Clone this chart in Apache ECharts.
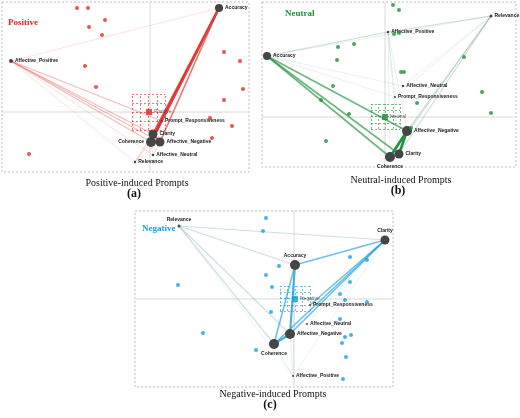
<!DOCTYPE html>
<html>
<head>
<meta charset="utf-8">
<script src="https://cdn.jsdelivr.net/npm/echarts@6/dist/echarts.min.js"></script>
<style>
  html, body { margin: 0; padding: 0; background: #fff; }
  #main { width: 520px; height: 418px; }
</style>
</head>
<body>
<div id="main"></div>
<script>
// node names shared by the three panels
var nodeNames = ['Accuracy', 'Affective_Positive', 'Clarity', 'Coherence',
    'Affective_Negative', 'Affective_Neutral', 'Relevance', 'Prompt_Responsiveness'];

// (a) positive
var posNodeXY = [[69, 104], [-139, 51], [3, -22], [1, -30], [10, -30], [3, -43], [-15, -50], [12, -9]];
var posDots = [[-73, 104], [-62, 104], [-45, 92], [-61, 85], [-48, 77], [-65, 46], [-54, 25], [-121, -42],
    [74, 60], [90, 51], [93, 23], [74, 12], [60, -6], [82, -14], [62, -26]];
var posCenter = [-1, 0];
var posBoxX = [-18, 15];
var posBoxY = [-18, 18];
var posEdges = [
    ['Affective_Positive', 'Accuracy', 1], ['Affective_Positive', 'Clarity', 2], ['Affective_Positive', 'Coherence', 2],
    ['Affective_Positive', 'Affective_Negative', 2], ['Affective_Positive', 'Prompt_Responsiveness', 2],
    ['Affective_Positive', 'Relevance', 1], ['Affective_Positive', 'Affective_Neutral', 1],
    ['Accuracy', 'Coherence', 5], ['Accuracy', 'Clarity', 4], ['Accuracy', 'Affective_Negative', 3],
    ['Accuracy', 'Prompt_Responsiveness', 2],
    ['Relevance', 'Clarity', 1], ['Relevance', 'Coherence', 1], ['Relevance', 'Affective_Negative', 1],
    ['Relevance', 'Prompt_Responsiveness', 1],
    ['Clarity', 'Coherence', 4], ['Clarity', 'Affective_Negative', 4], ['Coherence', 'Affective_Negative', 4],
    ['Affective_Neutral', 'Coherence', 1], ['Affective_Neutral', 'Affective_Negative', 1]
];

// (b) neutral
var neuNodeXY = [[-118, 61], [3, 85], [14, -37], [5, -40], [22, -14], [18, 31], [106, 101], [10, 20]];
var neuDots = [[8, 112], [14, 107], [14, 84], [9, 83], [-31, 73], [-47, 70], [-48, 57], [16, 45], [19, 45],
    [-52, 31], [-64, 17], [-36, 3], [32, 14], [79, 60], [97, 25], [106, 4], [-59, -24], [26, -11]];
var neuCenter = [0, 0];
var neuBoxX = [-14, 15];
var neuBoxY = [-12, 13];
var neuEdges = [
    ['Accuracy', 'Affective_Positive', 2], ['Accuracy', 'Relevance', 1], ['Accuracy', 'Affective_Negative', 3],
    ['Accuracy', 'Clarity', 3], ['Accuracy', 'Coherence', 3], ['Accuracy', 'Affective_Neutral', 1],
    ['Accuracy', 'Prompt_Responsiveness', 1],
    ['Affective_Positive', 'Relevance', 2], ['Affective_Positive', 'Affective_Negative', 1],
    ['Affective_Positive', 'Clarity', 1], ['Affective_Positive', 'Coherence', 1],
    ['Affective_Positive', 'Prompt_Responsiveness', 1],
    ['Relevance', 'Affective_Negative', 2], ['Relevance', 'Clarity', 2], ['Relevance', 'Coherence', 2],
    ['Relevance', 'Affective_Neutral', 1], ['Relevance', 'Prompt_Responsiveness', 1],
    ['Affective_Negative', 'Clarity', 5], ['Affective_Negative', 'Coherence', 5], ['Clarity', 'Coherence', 4]
];

// (c) negative
var negNodeXY = [[1, 34], [-1, -77], [91, 59], [-20, -45], [-4, -35], [13, -25], [-115, 73], [16, -6]];
var negDots = [[-28, 81], [-31, 68], [56, 42], [73, 39], [-15, 33], [-28, 24], [-116, 14], [-22, 12],
    [56, 17], [46, 5], [51, -1], [73, -3], [-23, -13], [46, -20], [57, -36], [51, -38], [48, -44],
    [-91, -34], [-38, -51], [52, -58], [49, -80]];
var negCenter = [1, 0];
var negBoxX = [-14, 16];
var negBoxY = [-12, 13];
var negEdges = [
    ['Relevance', 'Clarity', 2], ['Relevance', 'Accuracy', 2], ['Relevance', 'Coherence', 2],
    ['Relevance', 'Affective_Negative', 2], ['Relevance', 'Affective_Positive', 1],
    ['Accuracy', 'Clarity', 3], ['Accuracy', 'Affective_Negative', 4], ['Accuracy', 'Coherence', 3],
    ['Clarity', 'Affective_Negative', 3], ['Clarity', 'Coherence', 3], ['Clarity', 'Prompt_Responsiveness', 3],
    ['Affective_Negative', 'Coherence', 4],
    ['Affective_Positive', 'Coherence', 1], ['Affective_Positive', 'Affective_Negative', 1],
    ['Affective_Positive', 'Accuracy', 1], ['Clarity', 'Affective_Positive', 1], ['Clarity', 'Affective_Neutral', 1]
];

// ---- styling / layout ----
var panels = [
    { grid: { left: 2, top: 2, width: 247, height: 170 }, x: [-148, 99], y: [-60, 110],
      color: '#dc2a26', weak: '#e66a66', name: 'Positive', title: [8, 18], caption: [137, 178], tag: '(a)', tagTop: 188,
      captionText: 'Positive-induced Prompts',
      nodes: posNodeXY, dots: posDots, center: posCenter, boxX: posBoxX, boxY: posBoxY, edges: posEdges,
      sizes: [8, 4, 9, 10, 9, 2.5, 2.5, 2],
      labelPos: ['right', 'right', 'right', 'left', 'right', 'right', 'right', 'right'] },
    { grid: { left: 262, top: 2, width: 254, height: 165 }, x: [-123, 131], y: [-50, 115],
      color: '#1e8f3a', weak: '#93b8a4', name: 'Neutral', title: [285, 9], caption: [401, 175], tag: '(b)', tagTop: 185,
      captionText: 'Neutral-induced Prompts',
      nodes: neuNodeXY, dots: neuDots, center: neuCenter, boxX: neuBoxX, boxY: neuBoxY, edges: neuEdges,
      sizes: [8, 2.5, 9, 10, 10, 2.5, 3, 2],
      labelPos: ['right', 'right', 'right', 'bottom', 'right', 'right', 'right', 'right'] },
    { grid: { left: 135, top: 211, width: 258, height: 176 }, x: [-159, 99], y: [-88, 88],
      color: '#1a9ee0', weak: '#93bccb', name: 'Negative', title: [142, 224], caption: [273, 389], tag: '(c)', tagTop: 399,
      captionText: 'Negative-induced Prompts',
      nodes: negNodeXY, dots: negDots, center: negCenter, boxX: negBoxX, boxY: negBoxY, edges: negEdges,
      sizes: [10, 2, 9, 10, 10, 2, 3, 2],
      labelPos: ['top', 'right', 'top', 'bottom', 'right', 'right', 'top', 'right'] }
];

var myChart = echarts.init(document.getElementById('main'));
var grids = [], xAxes = [], yAxes = [], series = [], titles = [], graphics = [];
var fracs = [0, 0.25, 0.5, 0.75, 1];

panels.forEach(function (p, i) {
    grids.push(p.grid);
    var axisLine = { show: true, onZero: true, lineStyle: { color: '#e6e6e6', width: 1.5 } };
    xAxes.push({ type: 'value', gridIndex: i, min: p.x[0], max: p.x[1], axisLine: axisLine,
        axisTick: { show: false }, axisLabel: { show: false }, splitLine: { show: false } });
    yAxes.push({ type: 'value', gridIndex: i, min: p.y[0], max: p.y[1], axisLine: axisLine,
        axisTick: { show: false }, axisLabel: { show: false }, splitLine: { show: false } });

    graphics.push({ type: 'rect', silent: true, z: 0,
        shape: { x: p.grid.left, y: p.grid.top, width: p.grid.width, height: p.grid.height },
        style: { fill: 'none', stroke: '#bdbdbd', lineWidth: 1, lineDash: [2, 2] } });

    // dashed spread box
    var box = [];
    fracs.forEach(function (f) {
        var xv = p.boxX[0] + f * (p.boxX[1] - p.boxX[0]);
        var yv = p.boxY[0] + f * (p.boxY[1] - p.boxY[0]);
        box.push([{ coord: [xv, p.boxY[0]] }, { coord: [xv, p.boxY[1]] }]);
        box.push([{ coord: [p.boxX[0], yv] }, { coord: [p.boxX[1], yv] }]);
    });
    series.push({ type: 'line', xAxisIndex: i, yAxisIndex: i, data: [], silent: true,
        markLine: { symbol: 'none', silent: true, label: { show: false },
            lineStyle: { type: [2, 2], color: p.color, width: 0.8, opacity: 0.8 }, data: box } });

    // graph edges + nodes
    var nodes = nodeNames.map(function (n, k) {
        return { name: n, value: p.nodes[k], symbolSize: p.sizes[k],
            label: { position: p.labelPos[k] } };
    });
    var links = p.edges.map(function (e) {
        var w = e[2];
        return { source: e[0], target: e[1],
            lineStyle: { width: 0.3 + 0.45 * w, opacity: 0.1 + 0.18 * w,
                color: w >= 3 ? p.color : p.weak } };
    });
    series.push({ type: 'graph', layout: 'none', coordinateSystem: 'cartesian2d',
        xAxisIndex: i, yAxisIndex: i, z: 3, data: nodes, links: links,
        itemStyle: { color: '#454545' },
        lineStyle: { curveness: 0 },
        label: { show: true, formatter: '{b}', fontSize: 5, fontWeight: 'bold',
            fontFamily: 'Liberation Sans', color: '#222', distance: 2 },
        emphasis: { disabled: true } });

    // scattered points
    series.push({ type: 'scatter', xAxisIndex: i, yAxisIndex: i, z: 4, data: p.dots,
        symbolSize: 4, itemStyle: { color: p.color }, silent: true });

    // centre marker
    series.push({ type: 'scatter', xAxisIndex: i, yAxisIndex: i, z: 5, data: [p.center],
        symbol: 'rect', symbolSize: 6, itemStyle: { color: p.color }, silent: true,
        label: { show: true, position: 'right', formatter: p.name, fontSize: 5,
            fontFamily: 'Liberation Sans', color: '#444', distance: 2 } });

    titles.push({ text: p.name, left: p.title[0], top: p.title[1], padding: 0,
        textStyle: { color: p.color, fontFamily: 'Liberation Serif', fontWeight: 'bold', fontSize: 9 } });
    titles.push({ text: p.captionText, left: p.caption[0], top: p.caption[1], textAlign: 'center', padding: 0,
        textStyle: { color: '#111', fontFamily: 'Liberation Serif', fontWeight: 'normal', fontSize: 10 } });
    titles.push({ text: p.tag, left: p.caption[0] - 3, top: p.tagTop, textAlign: 'center', padding: 0,
        textStyle: { color: '#111', fontFamily: 'Liberation Serif', fontWeight: 'bold', fontSize: 12 } });
});

myChart.setOption({
    animation: false,
    title: titles,
    grid: grids,
    xAxis: xAxes,
    yAxis: yAxes,
    graphic: graphics,
    series: series
});
</script>
</body>
</html>
